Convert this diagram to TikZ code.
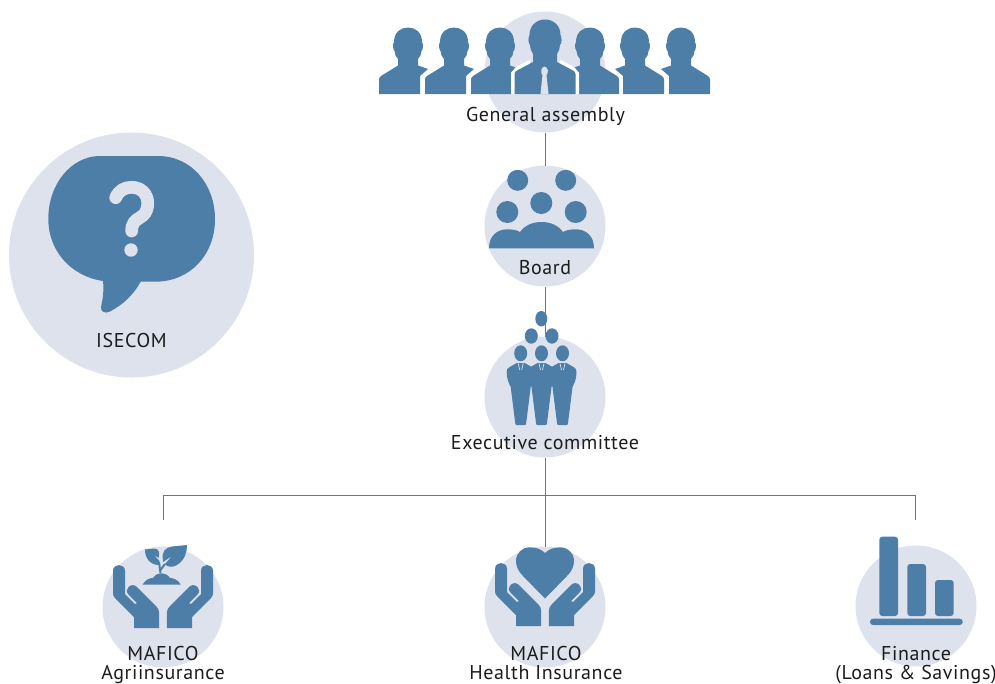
\documentclass[tikz,border=0pt]{standalone}
\usepackage{fontspec}
\setmainfont[LetterSpace=3]{PT Sans}
\definecolor{iconblue}{HTML}{4D7EA8}
\definecolor{discgrey}{HTML}{DEE2ED}
\definecolor{captionblack}{HTML}{1C1C1C}
\tikzset{
    disc/.style={circle, fill=discgrey, inner sep=0pt, outer sep=0pt, minimum size=121pt},
    link/.style={draw=iconblue, line width=.9pt},
    icon/.style={fill=iconblue},
    cutout/.style={fill=discgrey},
    caption/.style={text=captionblack, font=\fontsize{20}{22}\selectfont, inner sep=0pt, anchor=base},
    person/.pic={
        \fill[icon] (12,0) -- (12,-18) -- (20,-25) -- (10,-28.5) -- (10,-35) .. controls (12,-37) and (13.5,-40) .. (13.5,-43)
            .. controls (15,-44) and (15.5,-50) .. (14,-52) .. controls (14,-62) and (7,-66.5) .. (0,-66.5)
            .. controls (-7,-66.5) and (-14,-62) .. (-14,-52) .. controls (-15.5,-50) and (-15,-44) .. (-13.5,-43)
            .. controls (-13.5,-40) and (-12,-37) .. (-10,-35) -- (-10,-28.5) -- (-27,-18)
            .. controls (-28.5,-17) and (-29,-16) .. (-29,-14) -- (-29,0) -- cycle;
    },
    leader/.pic={
        \draw[white, line width=7pt] (-30.5,0) -- (-30.5,-20) -- (-27,-24) -- (-14,-31) (30.5,0) -- (30.5,-20) -- (27,-24) -- (14,-31);
        \fill[icon] (30.5,0) -- (30.5,-20) .. controls (30.5,-22) and (29,-23) .. (27,-24) -- (12,-32) -- (12,-40)
            .. controls (14,-43) and (15,-46) .. (15,-49) .. controls (17,-51) and (17,-56) .. (15.5,-59)
            .. controls (15.5,-69) and (8,-74.5) .. (0,-74.5) .. controls (-8,-74.5) and (-15.5,-69) .. (-15.5,-59)
            .. controls (-17,-56) and (-17,-51) .. (-15,-49) .. controls (-15,-46) and (-14,-43) .. (-12,-40) -- (-12,-32) -- (-27,-24)
            .. controls (-29,-23) and (-30.5,-22) .. (-30.5,-20) -- (-30.5,0) -- cycle;
        \fill[cutout] (-4.5,0) -- (-2.5,-19) .. controls (-5,-21) and (-4,-27) .. (-.5,-27.5) .. controls (3,-27) and (4,-21) .. (1.5,-19) -- (3.5,0) -- cycle;
    },
    suit/.pic={
        \fill[icon] (-4,0) -- (4,0) -- (11,4) .. controls (13.5,5) and (14,7) .. (14,9) .. controls (14,16) and (12,20) .. (10,24)
            -- (5.5,60) .. controls (5.4,61.5) and (5,62) .. (4,62) -- (-4,62) .. controls (-5,62) and (-5.4,61.5) .. (-5.5,60)
            -- (-10,24) .. controls (-12,20) and (-14,16) .. (-14,9) .. controls (-14,7) and (-13.5,5) .. (-11,4) -- cycle;
        \draw[discgrey, line width=.7pt] (-2.5,.5) -- (-1,7) (2.5,.5) -- (1,7);
    },
    hands/.pic={
        \fill[icon] (-3.8,0) -- (-29,0) -- (-29,-11) -- (-48,-30) .. controls (-49.5,-31.5) and (-50,-33) .. (-50,-35) -- (-50,-57)
            .. controls (-50,-65) and (-38,-65) .. (-38,-57) -- (-38,-34) -- (-28,-24) -- (-26,-25) -- (-34.5,-33.5)
            .. controls (-37,-36) and (-36.5,-39) .. (-34.5,-41) .. controls (-32,-43.5) and (-28.5,-43.5) .. (-26,-41)
            -- (-7,-22) .. controls (-5,-20) and (-3.8,-18) .. (-3.8,-15) -- cycle;
    },
}
\begin{document}
\begin{tikzpicture}[x=1pt, y=-1pt]
    \useasboundingbox (0,0) rectangle (995,683);
    % discs
    \node[disc, minimum size=245pt] (isecom) at (131.5,255) {};
    \node[disc] (assembly) at (545,72) {};
    \node[disc] (board) at (545,226) {};
    \node[disc] (executive) at (545,397) {};
    \node[disc] (agri) at (163,607) {};
    \node[disc] (health) at (545,607) {};
    \node[disc] (finance) at (916,606) {};
    % connectors
    \coordinate (agriend) at (163,520);
    \coordinate (agriturn) at (163,495);
    \coordinate (financeturn) at (915,495);
    \coordinate (financeend) at (915,520);
    \draw[link] (assembly) -- (board);
    \draw[link] (board) -- (executive);
    \draw[link] (executive) -- (health);
    \draw[link] (agriend) -- (agriturn) -- (financeturn) -- (financeend);
    % general assembly
    \foreach \xpos in {408,454,500} \pic at (\xpos,94) {person};
    \foreach \xpos in {590,635,681} \pic[xscale=-1] at (\xpos,94) {person};
    \pic at (545,94) {leader};
    % board
    \begin{scope}
        \fill[icon] (517.7,180.3) circle (10.5) (565.7,180.3) circle (10.5) (541.3,203) circle (11) (507.3,212) circle (11) (575.7,212) circle (11);
        \fill[icon] (489,248.3) .. controls (489,236) and (497,229.3) .. (507,229.3) .. controls (512,229.3) and (517,230) .. (520,232)
            .. controls (525,225) and (533,222) .. (541.5,222) .. controls (550,222) and (558,225) .. (563,232)
            .. controls (566,230) and (571,229.3) .. (576,229.3) .. controls (586,229.3) and (594,236) .. (594,248.3) -- cycle;
    \end{scope}
    % executive committee
    \begin{scope}
        \fill[icon] (541.3,318.7) ellipse (6 and 7.7) (531.3,336) ellipse (6.5 and 7.7) (552,336) ellipse (6.5 and 7.7);
        \foreach \xpos in {520.7,541.5,562.5} {
            \fill[icon] (\xpos,353.3) ellipse (6.5 and 8);
            \pic at (\xpos,363) {suit};
        }
    \end{scope}
    % isecom bubble
    \fill[icon] (100,156) -- (158,156) .. controls (192,156) and (215,185) .. (215,219) .. controls (215,255) and (190,281.7) .. (155,281.7)
        -- (140.7,281.7) .. controls (132,297) and (122,305) .. (110,311.5) .. controls (105,314) and (100.5,312) .. (101,307)
        .. controls (103,298) and (104,290) .. (103,281) .. controls (70,276) and (48.3,250) .. (48.3,219)
        .. controls (48.3,183) and (72,156) .. (100,156) -- cycle;
    \draw[discgrey, line width=12.7pt, line cap=round] (115.7,197.7) .. controls (119,190) and (125,187.3) .. (131.7,187.3)
        .. controls (141,187.3) and (147.7,194) .. (147.7,203) .. controls (147.7,222) and (131.7,214) .. (131.7,231);
    \fill[discgrey] (131,250) circle (6.7);
    % agri hands and plant
    \pic at (163,628) {hands};
    \pic[xscale=-1] at (163,628) {hands};
    \fill[icon] (142.7,584.5) .. controls (146,579) and (150,578) .. (153,578) .. controls (155,575) and (158,573.3) .. (161.7,573.3)
        .. controls (165,573.3) and (168,575) .. (170,578) .. controls (174,578) and (178,580) .. (180.7,584.5) -- cycle;
    \fill[icon] (163,560) .. controls (161,552) and (166,547) .. (172,546.5) -- (187,545) .. controls (187,552) and (185,560) .. (177,565)
        .. controls (172,568) and (167,567) .. (165,564) -- (172,556) -- (163,562) -- cycle;
    \fill[icon] (145,549.5) -- (154,548.5) .. controls (159,548.5) and (160,553) .. (158.5,558) -- (153,554) -- (159.5,561)
        -- (159,565) .. controls (150,565) and (145,558) .. (145,549.5) -- cycle;
    \draw[draw=iconblue, line width=2pt] (159,562) -- (160.5,573) (165,564) -- (160.5,570);
    % heart and hands
    \pic at (545,626) {hands};
    \pic[xscale=-1] at (545,626) {hands};
    \fill[icon] (545,598.5) -- (523,576) .. controls (518,571) and (516,566) .. (516,561) .. controls (516,553) and (522,547.3) .. (530,547.3)
        .. controls (536,547.3) and (541,549) .. (545,553) .. controls (549,549) and (554,547.3) .. (560,547.3)
        .. controls (568,547.3) and (574,553) .. (574,561) .. controls (574,566) and (572,571) .. (567,576) -- cycle;
    % finance bars
    \fill[icon, rounded corners=3pt] (879.3,536.7) rectangle (898,616);
    \fill[icon, rounded corners=3pt] (907.3,564) rectangle (926,616);
    \fill[icon, rounded corners=3pt] (935,580) rectangle (953.7,616);
    \fill[icon, rounded corners=3pt] (870,618.7) rectangle (962.7,625);
    % captions
    \node[caption] (assemblytext) at (545.5,121) {General assembly};
    \node[caption] (boardtext) at (545,274) {Board};
    \node[caption] (executivetext) at (545,449.5) {Executive committee};
    \node[caption] (isecomtext) at (131.5,347) {ISECOM};
    \node[caption] (agritextone) at (163,660) {MAFICO};
    \node[caption] (agritexttwo) at (163,679) {Agriinsurance};
    \node[caption] (healthtextone) at (546,660) {MAFICO};
    \node[caption] (healthtexttwo) at (546,679) {Health Insurance};
    \node[caption] (financetextone) at (916,660) {Finance};
    \node[caption] (financetexttwo) at (916,679) {(Loans \& Savings)};
\end{tikzpicture}
\end{document}
